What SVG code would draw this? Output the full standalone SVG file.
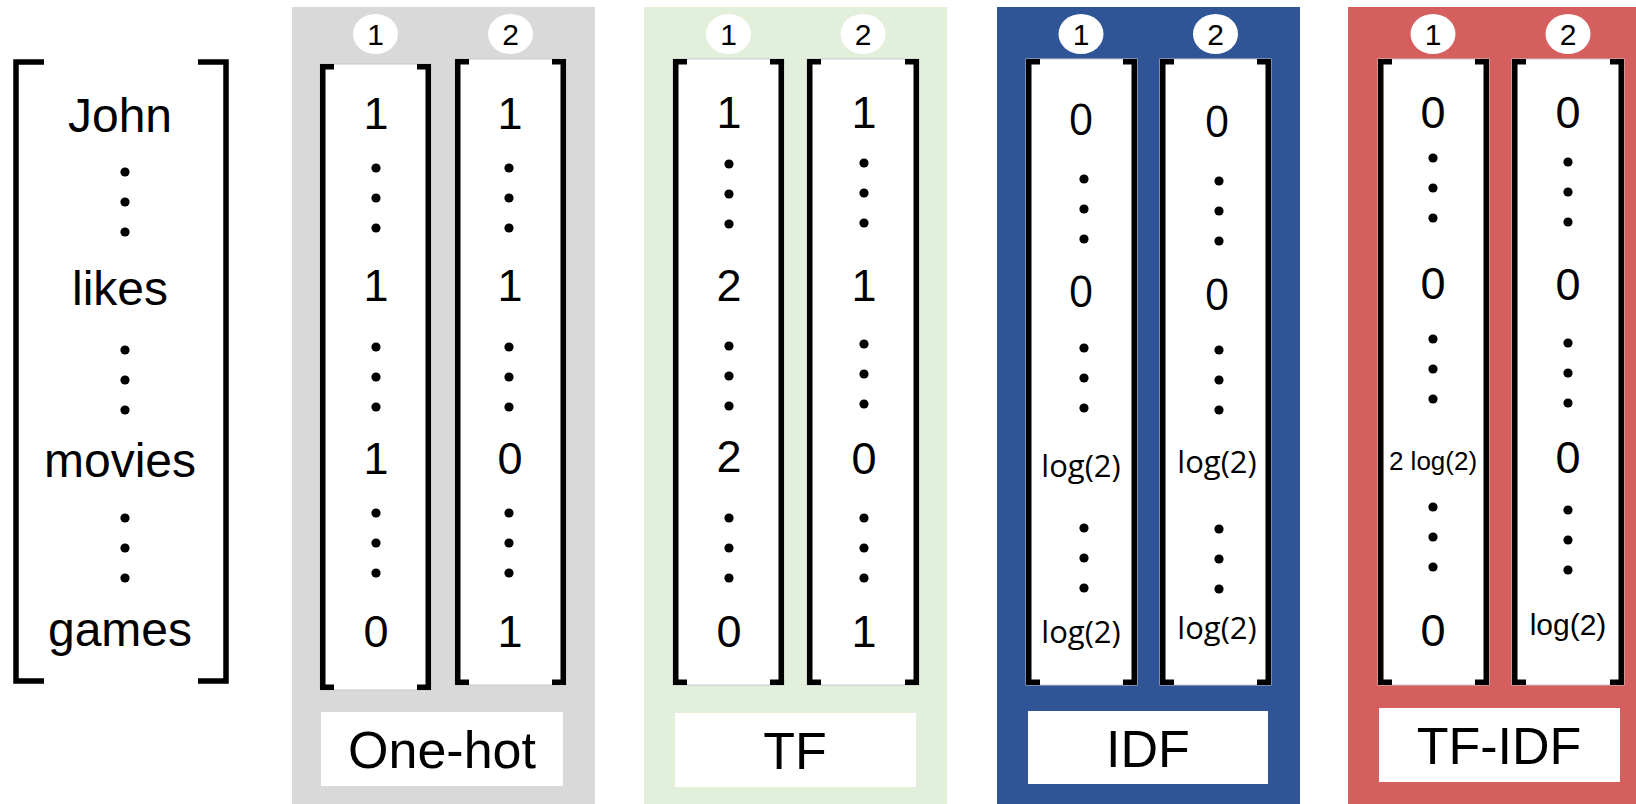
<svg xmlns="http://www.w3.org/2000/svg" width="1636" height="804" viewBox="0 0 1636 804">
<style>
.t{font-family:"Liberation Sans",Arial,sans-serif;fill:#000;text-anchor:middle}
.c{font-family:"Open Sans","Noto Sans",sans-serif;fill:#000;text-anchor:middle}
.w{font-size:48px}
.n{font-size:45px}
.cn{font-size:30px}
.lab{font-size:52px}
.col{fill:#fff;stroke:#c8c8c8;stroke-width:1}
.br{fill:none;stroke:#000;stroke-width:5.5;stroke-linejoin:miter;stroke-linecap:butt}
.circ{fill:#fff}
.box{fill:#fff}
</style>
<defs>
<g id="dots"><circle cx="0" cy="0" r="4.6"/><circle cx="0" cy="30" r="4.6"/><circle cx="0" cy="60" r="4.6"/></g>
</defs>

<!-- panel backgrounds -->
<g id="panels">
<rect x="292" y="7" width="303" height="797" fill="#d9d9d9"/>
<rect x="644" y="7" width="303" height="797" fill="#e2efda"/>
<rect x="997" y="7" width="303" height="797" fill="#2f5597"/>
<rect x="1348" y="7" width="288" height="797" fill="#d55e5e"/>
</g>

<!-- vocabulary vector -->
<g id="vocab">
<path class="br" stroke-width="6" d="M44,62 H16 V681 H44"/>
<path class="br" stroke-width="6" d="M198,62 H226 V681 H198"/>
<text class="t w" x="120" y="132">John</text>
<use href="#dots" x="125" y="172"/>
<text class="t w" x="120" y="305">likes</text>
<use href="#dots" x="125" y="350"/>
<text class="t w" x="120" y="477">movies</text>
<use href="#dots" x="125" y="518"/>
<text class="t w" x="120" y="646">games</text>
</g>

<!-- One-hot -->
<g id="onehot">
<ellipse class="circ" cx="375.5" cy="34" rx="22.5" ry="20"/>
<text class="t cn" x="375.5" y="45">1</text>
<ellipse class="circ" cx="510.5" cy="34" rx="22.5" ry="20"/>
<text class="t cn" x="510.5" y="45">2</text>
<rect class="col" x="320" y="64" width="111" height="626"/>
<path class="br" d="M334,66.75 H322.75 V687.25 H334 M417,66.75 H428.25 V687.25 H417"/>
<rect class="col" x="455" y="59" width="111" height="626"/>
<path class="br" d="M469,61.75 H457.75 V682.25 H469 M552,61.75 H563.25 V682.25 H552"/>
<text class="t n" x="376" y="129">1</text>
<use href="#dots" x="376" y="168"/>
<text class="t n" x="376" y="301">1</text>
<use href="#dots" x="376" y="347"/>
<text class="t n" x="376" y="474">1</text>
<use href="#dots" x="376" y="513"/>
<text class="t n" x="376" y="647">0</text>
<text class="t n" x="510" y="129">1</text>
<use href="#dots" x="509" y="168"/>
<text class="t n" x="510" y="301">1</text>
<use href="#dots" x="509" y="347"/>
<text class="t n" x="510" y="474">0</text>
<use href="#dots" x="509" y="513"/>
<text class="t n" x="510" y="647">1</text>
<rect class="box" x="321" y="712" width="242" height="74"/>
<text class="t lab" x="442" y="768">One-hot</text>
</g>

<!-- TF -->
<g id="tf">
<ellipse class="circ" cx="728.5" cy="34" rx="22.5" ry="20"/>
<text class="t cn" x="728.5" y="45">1</text>
<ellipse class="circ" cx="863" cy="34" rx="22.5" ry="20"/>
<text class="t cn" x="863" y="45">2</text>
<rect class="col" x="673" y="59" width="111" height="626"/>
<path class="br" d="M687,61.75 H675.75 V682.25 H687 M770,61.75 H781.25 V682.25 H770"/>
<rect class="col" x="807" y="59" width="112" height="626"/>
<path class="br" d="M821,61.75 H809.75 V682.25 H821 M905,61.75 H916.25 V682.25 H905"/>
<text class="t n" x="729" y="128">1</text>
<use href="#dots" x="729" y="164"/>
<text class="t n" x="729" y="301">2</text>
<use href="#dots" x="729" y="346"/>
<text class="t n" x="729" y="472">2</text>
<use href="#dots" x="729" y="518"/>
<text class="t n" x="729" y="647">0</text>
<text class="t n" x="864" y="128">1</text>
<use href="#dots" x="864" y="163"/>
<text class="t n" x="864" y="301">1</text>
<use href="#dots" x="864" y="344"/>
<text class="t n" x="864" y="474">0</text>
<use href="#dots" x="864" y="518"/>
<text class="t n" x="864" y="647">1</text>
<rect class="box" x="675" y="713" width="241" height="74"/>
<text class="t lab" x="795" y="769">TF</text>
</g>

<!-- IDF -->
<g id="idf">
<ellipse class="circ" cx="1081" cy="34" rx="22.5" ry="20"/>
<text class="t cn" x="1081" y="45">1</text>
<ellipse class="circ" cx="1215.5" cy="34" rx="22.5" ry="20"/>
<text class="t cn" x="1215.5" y="45">2</text>
<rect class="col" x="1026" y="59" width="111" height="626"/>
<path class="br" d="M1040,61.75 H1028.75 V682.25 H1040 M1123,61.75 H1134.25 V682.25 H1123"/>
<rect class="col" x="1160" y="59" width="111" height="626"/>
<path class="br" d="M1174,61.75 H1162.75 V682.25 H1174 M1257,61.75 H1268.25 V682.25 H1257"/>
<text class="c" font-size="43" x="1081" y="135">0</text>
<use href="#dots" x="1084" y="179"/>
<text class="c" font-size="43" x="1081" y="307">0</text>
<use href="#dots" x="1084" y="348"/>
<text class="c" font-size="31" x="1081" y="477">log(2)</text>
<use href="#dots" x="1084" y="528"/>
<text class="c" font-size="31" x="1081" y="643">log(2)</text>
<text class="c" font-size="43" x="1217" y="137">0</text>
<use href="#dots" x="1219" y="181"/>
<text class="c" font-size="43" x="1217" y="310">0</text>
<use href="#dots" x="1219" y="350"/>
<text class="c" font-size="31" x="1217" y="473">log(2)</text>
<use href="#dots" x="1219" y="529"/>
<text class="c" font-size="31" x="1217" y="639">log(2)</text>
<rect class="box" x="1028" y="711" width="240" height="73"/>
<text class="t lab" x="1148" y="767">IDF</text>
</g>

<!-- TF-IDF -->
<g id="tfidf">
<ellipse class="circ" cx="1433" cy="34" rx="22.5" ry="20"/>
<text class="t cn" x="1433" y="45">1</text>
<ellipse class="circ" cx="1568" cy="34" rx="22.5" ry="20"/>
<text class="t cn" x="1568" y="45">2</text>
<rect class="col" x="1378" y="59" width="111" height="626"/>
<path class="br" d="M1392,61.75 H1380.75 V682.25 H1392 M1475,61.75 H1486.25 V682.25 H1475"/>
<rect class="col" x="1512" y="59" width="112" height="626"/>
<path class="br" d="M1526,61.75 H1514.75 V682.25 H1526 M1610,61.75 H1621.25 V682.25 H1610"/>
<text class="t n" x="1433" y="128">0</text>
<use href="#dots" x="1433" y="158"/>
<text class="t n" x="1433" y="299">0</text>
<use href="#dots" x="1433" y="339"/>
<text class="t" font-size="26" x="1433" y="470">2 log(2)</text>
<use href="#dots" x="1433" y="507"/>
<text class="t n" x="1433" y="646">0</text>
<text class="t n" x="1568" y="128">0</text>
<use href="#dots" x="1568" y="162"/>
<text class="t n" x="1568" y="300">0</text>
<use href="#dots" x="1568" y="343"/>
<text class="t n" x="1568" y="473">0</text>
<use href="#dots" x="1568" y="510"/>
<text class="t" font-size="30" x="1568" y="635">log(2)</text>
<rect class="box" x="1379" y="708" width="241" height="74"/>
<text class="t lab" x="1499" y="764">TF-IDF</text>
</g>
</svg>
